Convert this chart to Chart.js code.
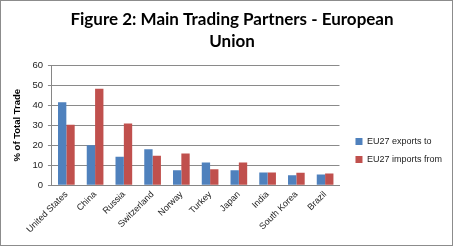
<!DOCTYPE html>
<html>
<head>
<meta charset="utf-8">
<script src="https://cdn.jsdelivr.net/npm/chart.js@4.4.1/dist/chart.umd.min.js"></script>
<style>
  html, body { margin: 0; padding: 0; background: #fff; }
  #wrap { width: 453px; height: 246px; box-sizing: border-box; border: 1px solid #8c8c8c; position: relative; }
  #chart { display: block; }
</style>
</head>
<body>
<div id="wrap"><canvas id="chart" width="451" height="244"></canvas></div>
<script>
"use strict";

var countries = ['United States', 'China', 'Russia', 'Switzerland', 'Norway', 'Turkey', 'Japan', 'India', 'South Korea', 'Brazil'];
var exportsTo = [41.5, 20, 14.2, 18, 7.5, 11.3, 7.5, 6.3, 5, 5.3];
var importsFrom = [30.2, 48.2, 30.8, 14.7, 15.8, 8, 11.3, 6.3, 6.2, 5.8];
var yTicks = [0, 10, 20, 30, 40, 50, 60];

var ctx = document.getElementById('chart').getContext('2d');
var myChart = new Chart(ctx, {
	type: 'bar',
	data: {
		labels: countries,
		datasets: [{
			label: 'EU27 exports to',
			data: exportsTo,
			backgroundColor: '#4f81bd',
			borderWidth: 0
		},
		{
			label: 'EU27 imports from',
			data: importsFrom,
			backgroundColor: '#c0504d',
			borderWidth: 0
		}]
	},
	options: {
		responsive: false,
		animation: false,
		categoryPercentage: 0.58,
		barPercentage: 1,
		layout: { padding: { left: 11, right: 0, top: 0, bottom: 6 } },
		plugins: {
			title: {
				display: true,
				text: ['Figure 2: Main Trading Partners - European', 'Union'],
				color: '#000',
				font: { family: 'Lato', size: 17, weight: 'bold', lineHeight: 1.3 },
				padding: { top: 7, bottom: 13 }
			},
			legend: {
				position: 'right',
				align: 'start',
				maxWidth: 130,
				title: {
					display: true,
					text: ' ',
					font: { size: 10, lineHeight: 1.2 },
					padding: { top: 115, bottom: 0 }
				},
				labels: {
					boxWidth: 7,
					boxHeight: 7,
					padding: 9,
					color: '#222',
					font: { family: 'Liberation Sans', size: 9 }
				}
			},
			tooltip: { enabled: false }
		},
		scales: {
			x: {
				grid: { display: false, drawTicks: false },
				border: { color: '#868686' },
				ticks: {
					maxRotation: 45,
					minRotation: 45,
					padding: 4,
					color: '#222',
					font: { family: 'Liberation Sans', size: 9 }
				}
			},
			y: {
				min: 0,
				max: 60,
				afterBuildTicks: function(axis) {
					axis.ticks = yTicks.map(function(v) { return { value: v }; });
				},
				grid: { color: '#8a8a8a', tickLength: 4 },
				border: { color: '#868686' },
				ticks: {
					color: '#222',
					padding: 5,
					font: { family: 'Liberation Sans', size: 9.5 }
				},
				title: {
					display: true,
					text: '% of Total Trade',
					color: '#000',
					padding: { top: 0, bottom: 4 },
					font: { family: 'Liberation Sans', size: 9.5, weight: 'bold' }
				}
			},
			// empty right-hand spacer so the plot stops short of the legend
			gap: {
				type: 'linear',
				position: 'right',
				grid: { display: false, drawTicks: false },
				border: { display: false },
				ticks: { display: false },
				afterFit: function(axis) { axis.width = 7; }
			}
		}
	}
});
</script>
</body>
</html>
